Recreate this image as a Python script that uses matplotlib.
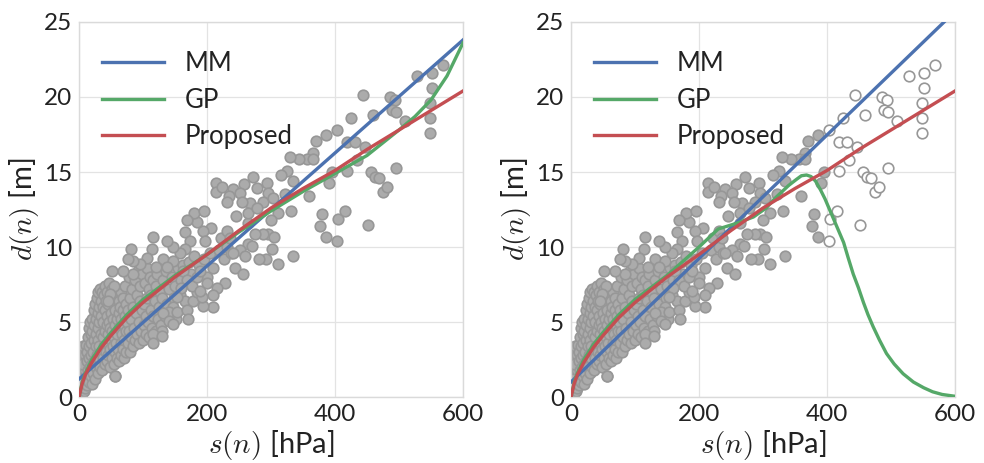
import numpy as np
import matplotlib.pyplot as plt

plt.rcParams['font.family'] = ['Lato', 'DejaVu Sans']
plt.rcParams['mathtext.fontset'] = 'cm'

s_pts = [1, 2, 3, 3, 4, 5, 5, 6, 6, 7, 8, 8, 8, 9, 10, 10, 10, 4, 2, 7,
         11, 12, 12, 13, 13, 14, 14, 15, 15, 16, 16, 17, 17, 18, 18, 19, 19, 20, 20, 20,
         21, 22, 22, 23, 23, 24, 24, 25, 25, 26, 26, 27, 27, 28, 28, 29, 29, 30, 30, 30,
         31, 31, 32, 32, 33, 33, 34, 34, 35, 35, 36, 36, 37, 37, 38, 38, 39, 39, 40, 40,
         41, 41, 42, 42, 43, 43, 44, 44, 45, 45, 46, 46, 47, 47, 48, 48, 49, 49, 50, 50,
         51, 51, 52, 52, 53, 53, 54, 54, 55, 55, 56, 56, 57, 57, 58, 58, 59, 59, 60, 60,
         61, 62, 62, 63, 63, 64, 65, 65, 66, 66, 67, 68, 68, 69, 70, 70, 71, 72, 72, 73, 74, 74, 75,
         76, 77, 78, 78, 79, 80, 81, 82, 83, 84, 85, 86, 87, 88, 89, 90, 91, 92, 93, 94, 95, 96, 97, 98, 99, 100,
         101, 102, 103, 104, 105, 106, 107, 108, 109, 110, 111, 112, 113, 114, 115, 116, 118, 120, 121, 122, 124, 125, 127, 128, 130,
         132, 134, 136, 138, 140, 142, 145, 148, 150, 152, 155, 158, 160, 162, 165, 170, 172, 175, 178, 180, 185, 188, 195, 200, 205, 210, 218, 222, 226, 232, 238,
         569, 528, 552, 552, 443, 486, 494, 489, 496, 548, 548, 548, 460, 425, 509, 403, 386, 370, 418, 431,
         447, 434, 366, 356, 343, 330, 366, 418, 456, 462, 469, 475, 481, 496, 390, 396, 359, 379, 377, 386, 403,
         404, 416, 451, 335, 311, 292, 281, 311, 331, 335, 325, 315, 293, 296, 272, 278, 258, 241, 252, 235,
         231, 214, 214, 224, 287, 267, 254, 303, 322, 300, 295, 304, 301, 287, 275, 264, 246, 264, 278, 264,
         270, 252, 241, 259, 231, 236, 244, 257, 228, 215, 210, 210, 194, 192, 206, 194, 197, 184, 179, 195,
         168, 166, 173, 166, 158, 147, 137, 116, 114, 131, 147, 137, 121, 106, 95, 82, 85, 77, 85, 69,
         51, 54, 48, 46, 163, 168, 160, 176, 184, 189, 189, 200, 153, 147, 140, 153, 168, 171, 131, 140,
         147, 129, 116, 129, 116, 56]
d_pts = [0.2, 0.5, 0.9, 1.5, 0.3, 1.2, 2.0, 0.6, 2.6, 1.6, 0.4, 2.2, 3.0, 1.0, 1.8, 2.8, 0.6, 2.2, 1.2, 3.4,
         3.5, 1.2, 2.4, 0.8, 3.0, 4.0, 1.8, 2.6, 4.6, 1.0, 3.4, 2.0, 5.0, 2.8, 4.2, 1.4, 3.6, 2.2, 5.2, 0.9,
         4.4, 3.0, 1.6, 5.8, 3.8, 2.4, 4.8, 1.2, 6.2, 3.4, 5.2, 2.0, 4.2, 6.6, 2.8, 3.8, 5.6, 1.6, 4.6, 7.0,
         2.6, 6.0, 3.4, 5.0, 7.2, 2.0, 4.2, 6.4, 3.0, 5.4, 1.8, 7.0, 4.0, 6.0, 2.6, 5.0, 3.4, 6.8, 4.4, 2.2,
         5.8, 7.4, 3.0, 6.4, 4.8, 2.4, 5.4, 7.0, 3.6, 6.2, 4.2, 2.8, 5.0, 7.6, 3.2, 6.6, 4.6, 2.0, 5.6, 3.8,
         6.8, 2.6, 4.4, 7.2, 3.4, 5.2, 6.2, 2.2, 4.0, 7.0, 3.0, 5.8, 4.8, 1.4, 6.6, 3.6, 5.2, 2.6, 4.2, 7.0,
         3.2, 5.6, 6.4, 2.4, 4.6, 6.0, 3.6, 5.2, 7.0, 2.8, 4.2, 5.8, 3.2, 6.6, 4.8, 2.6, 3.8, 5.4, 7.4, 4.4, 3.0, 6.2, 5.0,
         3.6, 5.8, 4.4, 8.0, 3.0, 6.6, 4.0, 5.2, 7.2, 3.4, 6.0, 4.6, 7.8, 3.8, 5.6, 6.8, 4.2, 8.4, 5.0, 3.6, 6.4, 7.4, 4.4, 5.8, 8.2, 3.8,
         6.2, 4.8, 7.6, 5.4, 4.2, 8.6, 6.6, 5.0, 7.2, 4.0, 8.0, 5.8, 6.8, 4.6, 7.8, 5.4, 6.4, 4.4, 7.4, 8.2, 5.2, 6.0, 7.0, 4.8, 6.6,
         7.8, 5.4, 8.4, 6.2, 7.2, 5.6, 8.0, 6.6, 7.4, 5.2, 8.6, 6.8, 7.8, 8.8, 6.4, 7.6, 9.0, 8.2, 6.4, 9.4, 7.0, 8.8, 9.2, 8.0, 9.6, 8.6, 9.8, 10.6, 9.2, 10.0, 9.6,
         22.1, 21.4, 21.6, 20.6, 20.1, 20.0, 19.8, 19.1, 19.0, 19.6, 18.6, 17.6, 18.8, 18.6, 18.4, 17.8, 17.5, 17.1, 17.0, 17.0,
         16.7, 15.8, 16.3, 15.9, 15.9, 16.0, 15.9, 15.1, 15.0, 14.7, 14.6, 13.7, 14.0, 15.3, 14.3, 15.0, 13.4, 12.2, 11.4, 10.7, 10.4,
         11.9, 12.4, 11.5, 9.4, 8.9, 9.2, 9.2, 12.3, 12.4, 14.4, 15.1, 14.8, 14.3, 13.6, 14.7, 13.95, 14.2, 13.9, 13.6, 13.4,
         13.0, 14.3, 13.7, 14.0, 13.0, 12.95, 13.0, 13.3, 13.55, 11.8, 10.9, 10.7, 9.9, 10.9, 10.9, 11.6, 12.1, 12.3, 12.6, 10.2,
         10.1, 9.8, 9.6, 9.4, 11.1, 10.6, 8.6, 8.2, 7.6, 7.3, 6.8, 6.0, 6.1, 6.7, 11.3, 11.1, 10.4, 11.7, 12.3, 12.4,
         11.8, 11.0, 10.4, 9.9, 9.6, 10.0, 10.4, 10.7, 9.9, 9.2, 9.1, 8.7, 8.7, 9.3, 8.9, 9.9, 9.1, 9.2, 8.2, 8.4,
         8.4, 7.4, 6.9, 6.4, 8.4, 7.8, 7.3, 7.4, 8.0, 8.4, 7.1, 7.6, 6.7, 6.0, 5.7, 5.7, 5.8, 5.2, 5.6, 5.1,
         4.9, 4.4, 4.2, 4.1, 3.6, 1.4]

# fitted curves
mm_left_s = [0, 600]
mm_left_d = [1.2, 23.8]
mm_right_s = [0, 600]
mm_right_d = [1.0, 25.7]

prop_s = [0, 5, 10, 20, 35, 50, 75, 100, 150, 200, 250, 300, 350, 400, 450, 500, 550, 600]
prop_d = [0, 0.9, 1.5, 2.3, 3.3, 4.1, 5.3, 6.3, 8.0, 9.5, 11.1, 12.6, 13.9, 15.1, 16.5, 17.8, 19.1, 20.4]

gp_left_s = [0, 5, 10, 20, 35, 50, 75, 100, 150, 200, 250, 300, 350, 400, 450, 500, 525, 550, 575, 600]
gp_left_d = [0, 1.0, 1.6, 2.5, 3.5, 4.3, 5.5, 6.5, 8.1, 9.5, 11.0, 12.4, 13.7, 14.9, 16.1, 17.8, 18.7, 19.8, 21.4, 23.6]

gp_right_s = [0, 5, 10, 20, 35, 50, 75, 100, 150, 200, 230, 260, 285, 305, 320, 340, 352, 360, 368, 375,
              382, 390, 397, 404, 411, 418, 426, 433, 441, 449, 457, 464, 472, 482, 493, 505,
              519, 535, 551, 565, 580, 600]
gp_right_d = [0, 1.0, 1.6, 2.5, 3.5, 4.3, 5.5, 6.5, 8.1, 10.0, 11.2, 11.6, 12.0, 12.6, 13.3, 14.1, 14.5, 14.75, 14.8, 14.7,
              14.4, 13.8, 13.2, 12.5, 11.8, 11.1, 10.3, 9.3, 8.2, 7.3, 6.3, 5.5, 4.7, 3.8, 2.9, 2.2,
              1.55, 1.0, 0.62, 0.35, 0.17, 0.05]

s_cut = 398  # right panel: points beyond this are drawn hollow

blue = '#4C72B0'
green = '#55A868'
red = '#C44E52'
dot_face = '#ABABAB'
dot_edge = '#979797'

s_arr = np.array(s_pts, dtype=float)
d_arr = np.array(d_pts, dtype=float)

fig = plt.figure(figsize=(9.84, 4.63), dpi=100)
ax1 = fig.add_axes([0.0803, 0.1425, 0.3902, 0.81])
ax2 = fig.add_axes([0.5803, 0.1425, 0.3902, 0.81])


def style(ax):
    ax.set_xlim(0, 600)
    ax.set_ylim(0, 25)
    ax.set_xticks([0, 200, 400, 600])
    ax.set_yticks([0, 5, 10, 15, 20, 25])
    ax.grid(True, color='#E3E3E3', linewidth=0.9)
    ax.set_axisbelow(True)
    for sp in ax.spines.values():
        sp.set_color('#DADADA')
        sp.set_linewidth(1.0)
    ax.tick_params(length=0, labelsize=17.5, pad=5, colors='#222222')
    ax.set_xlabel(r'$s(n)$ [hPa]', fontsize=21, color='#222222', labelpad=2)
    ax.set_ylabel(r'$d(n)$ [m]', fontsize=21, color='#222222', labelpad=2)
    leg = ax.legend(loc='upper left', bbox_to_anchor=(0.0, 0.984), frameon=False,
                    fontsize=18.5, handlelength=2.4, handletextpad=0.8,
                    labelspacing=0.45, borderaxespad=0.5)
    for t in leg.get_texts():
        t.set_color('#222222')


ax1.scatter(s_arr, d_arr, s=58, c=dot_face, edgecolors=dot_edge, linewidths=1.2, zorder=2)
ax1.plot(mm_left_s, mm_left_d, color=blue, lw=2.4, label='MM', zorder=3)
ax1.plot(gp_left_s, gp_left_d, color=green, lw=2.4, label='GP', zorder=3)
ax1.plot(prop_s, prop_d, color=red, lw=2.4, label='Proposed', zorder=4)
style(ax1)

inside = s_arr < s_cut
ax2.scatter(s_arr[inside], d_arr[inside], s=58, c=dot_face, edgecolors=dot_edge, linewidths=1.2, zorder=2)
ax2.scatter(s_arr[~inside], d_arr[~inside], s=58, c='white', edgecolors=dot_edge, linewidths=1.2, zorder=2)
ax2.plot(mm_right_s, mm_right_d, color=blue, lw=2.4, label='MM', zorder=3)
ax2.plot(gp_right_s, gp_right_d, color=green, lw=2.4, label='GP', zorder=3)
ax2.plot(prop_s, prop_d, color=red, lw=2.4, label='Proposed', zorder=4)
style(ax2)

fig.savefig('out.png', dpi=100)
